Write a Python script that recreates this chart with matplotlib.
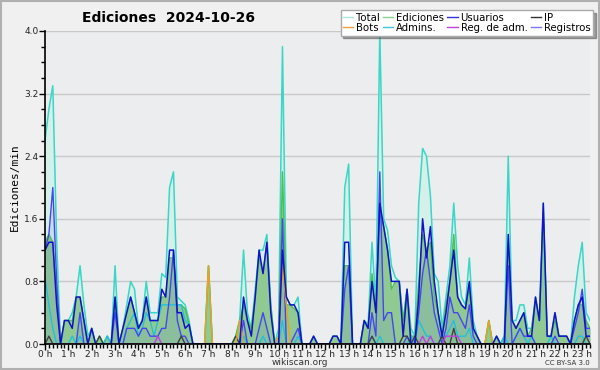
import numpy as np
import matplotlib
matplotlib.use("Agg")
import matplotlib.pyplot as plt
from matplotlib.lines import Line2D
from matplotlib.ticker import MultipleLocator, FixedLocator, FormatStrFormatter

# -----------------------------
# datos (ediciones/min cada 10 min, 00:00 -> 23:20)
# -----------------------------

total = [
    2.6, 3.0, 3.3, 1.3, 0.0, 0.3,   # 0 h
    0.3, 0.4, 0.6, 1.0, 0.5, 0.1,   # 1 h
    0.2, 0.0, 0.1, 0.0, 0.1, 0.0,   # 2 h
    1.0, 0.0, 0.2, 0.5, 0.8, 0.7,   # 3 h
    0.2, 0.3, 0.8, 0.4, 0.4, 0.4,   # 4 h
    0.9, 0.85, 2.0, 2.2, 0.6, 0.55,  # 5 h
    0.5, 0.3, 0.0, 0.0, 0.0, 0.0,   # 6 h
    1.0, 0.0, 0.0, 0.0, 0.0, 0.0,   # 7 h
    0.0, 0.1, 0.3, 1.2, 0.4, 0.2,   # 8 h
    0.7, 1.2, 1.2, 1.4, 0.5, 0.0,   # 9 h
    0.2, 3.8, 0.6, 0.5, 0.5, 0.6,   # 10 h
    0.0, 0.0, 0.0, 0.1, 0.0, 0.0,   # 11 h
    0.0, 0.0, 0.1, 0.1, 0.0, 2.0,   # 12 h
    2.3, 0.0, 0.0, 0.0, 0.3, 0.25,  # 13 h
    1.3, 0.5, 4.0, 1.6, 1.45, 1.0,  # 14 h
    0.85, 0.8, 0.3, 0.7, 0.2, 0.1,  # 15 h
    1.8, 2.5, 2.4, 1.9, 0.9, 0.8,   # 16 h
    0.2, 0.6, 1.0, 1.8, 1.0, 0.6,   # 17 h
    0.5, 1.1, 0.3, 0.1, 0.0, 0.0,   # 18 h
    0.3, 0.0, 0.1, 0.0, 0.1, 2.4,   # 19 h
    0.3, 0.3, 0.5, 0.5, 0.2, 0.2,   # 20 h
    0.6, 0.3, 1.8, 0.1, 0.1, 0.4,   # 21 h
    0.1, 0.1, 0.1, 0.0, 0.6, 1.0,   # 22 h
    1.3, 0.4, 0.3,                  # 23 h
]

ediciones = [
    1.3, 1.4, 1.3, 0.6, 0.0, 0.3,
    0.3, 0.3, 0.6, 0.6, 0.3, 0.0,
    0.2, 0.0, 0.1, 0.0, 0.1, 0.0,
    0.6, 0.0, 0.2, 0.4, 0.6, 0.4,
    0.2, 0.3, 0.6, 0.3, 0.3, 0.3,
    0.6, 0.6, 1.1, 1.1, 0.5, 0.5,
    0.45, 0.25, 0.0, 0.0, 0.0, 0.0,
    1.0, 0.0, 0.0, 0.0, 0.0, 0.0,
    0.0, 0.1, 0.3, 0.5, 0.3, 0.2,
    0.6, 1.1, 0.9, 1.3, 0.5, 0.0,
    0.1, 2.2, 0.5, 0.5, 0.45, 0.4,
    0.0, 0.0, 0.0, 0.1, 0.0, 0.0,
    0.0, 0.0, 0.1, 0.1, 0.0, 1.0,
    1.0, 0.0, 0.0, 0.0, 0.3, 0.2,
    0.9, 0.4, 1.7, 1.5, 1.2, 0.7,
    0.8, 0.8, 0.3, 0.7, 0.1, 0.1,
    0.8, 1.4, 1.2, 1.3, 0.6, 0.4,
    0.1, 0.5, 0.8, 1.4, 0.6, 0.5,
    0.45, 0.7, 0.2, 0.1, 0.0, 0.0,
    0.3, 0.0, 0.1, 0.0, 0.1, 1.3,
    0.3, 0.2, 0.3, 0.4, 0.1, 0.2,
    0.55, 0.3, 1.7, 0.1, 0.1, 0.3,
    0.1, 0.1, 0.1, 0.0, 0.3, 0.5,
    0.5, 0.3, 0.2,
]

usuarios = [
    1.2, 1.3, 1.3, 0.5, 0.0, 0.3,
    0.3, 0.2, 0.6, 0.6, 0.3, 0.0,
    0.2, 0.0, 0.0, 0.0, 0.0, 0.0,
    0.6, 0.0, 0.2, 0.4, 0.6, 0.4,
    0.2, 0.3, 0.6, 0.3, 0.3, 0.3,
    0.7, 0.6, 1.2, 1.2, 0.4, 0.4,
    0.2, 0.25, 0.0, 0.0, 0.0, 0.0,
    0.0, 0.0, 0.0, 0.0, 0.0, 0.0,
    0.0, 0.0, 0.0, 0.6, 0.3, 0.1,
    0.6, 1.2, 0.9, 1.3, 0.4, 0.0,
    0.0, 1.2, 0.6, 0.5, 0.5, 0.4,
    0.0, 0.0, 0.0, 0.1, 0.0, 0.0,
    0.0, 0.0, 0.1, 0.1, 0.0, 1.3,
    1.3, 0.0, 0.0, 0.0, 0.3, 0.2,
    0.8, 0.4, 1.8, 1.5, 1.2, 0.8,
    0.8, 0.8, 0.1, 0.7, 0.0, 0.0,
    0.6, 1.6, 1.1, 1.5, 0.8, 0.4,
    0.1, 0.4, 0.8, 1.2, 0.6, 0.5,
    0.45, 0.8, 0.2, 0.1, 0.0, 0.0,
    0.0, 0.0, 0.1, 0.0, 0.0, 1.4,
    0.3, 0.2, 0.3, 0.4, 0.1, 0.1,
    0.6, 0.3, 1.8, 0.1, 0.1, 0.4,
    0.1, 0.1, 0.1, 0.0, 0.3, 0.5,
    0.6, 0.1, 0.1,
]

ip = [0.0] * 141
for k in [1, 14, 35, 49, 84, 92, 93, 95, 102, 139]:
    ip[k] = 0.1
ip[105] = 0.2

bots = [0.0] * 141
bots[42] = 1.0
bots[50] = 0.3
bots[60] = 0.1
bots[61] = 1.0
bots[62] = 0.5
bots[114] = 0.3

admins = [
    0.85, 0.5, 0.2, 0.0, 0.0, 0.0,
    0.0, 0.1, 0.0, 0.1, 0.0, 0.0,
    0.0, 0.0, 0.0, 0.0, 0.1, 0.0,
    0.0, 0.0, 0.0, 0.2, 0.3, 0.4,
    0.1, 0.2, 0.4, 0.3, 0.1, 0.3,
    0.5, 0.5, 0.5, 0.5, 0.5, 0.5,
    0.3, 0.25, 0.0, 0.0, 0.0, 0.0,
    0.0, 0.0, 0.0, 0.0, 0.0, 0.0,
    0.0, 0.0, 0.0, 0.1, 0.0, 0.0,
    0.0, 0.0, 0.1, 0.0, 0.0, 0.0,
    0.0, 0.3, 0.0, 0.0, 0.0, 0.1,
    0.0, 0.0, 0.0, 0.0, 0.0, 0.0,
    0.0, 0.0, 0.0, 0.0, 0.0, 0.0,
    0.0, 0.0, 0.0, 0.0, 0.0, 0.0,
    0.1, 0.0, 0.1, 0.0, 0.0, 0.0,
    0.0, 0.0, 0.0, 0.0, 0.1, 0.0,
    0.3, 0.2, 0.1, 0.1, 0.0, 0.0,
    0.1, 0.1, 0.2, 0.3, 0.1, 0.1,
    0.1, 0.2, 0.0, 0.0, 0.0, 0.0,
    0.0, 0.0, 0.0, 0.0, 0.1, 0.0,
    0.0, 0.1, 0.2, 0.1, 0.0, 0.1,
    0.0, 0.0, 0.0, 0.0, 0.1, 0.0,
    0.0, 0.0, 0.0, 0.0, 0.0, 0.1,
    0.1, 0.0, 0.0,
]

reg_adm = [0.0] * 141
for k in [29, 97, 99, 103, 104, 105, 106]:
    reg_adm[k] = 0.1

registros = [
    1.2, 1.4, 2.0, 0.8, 0.0, 0.0,
    0.0, 0.0, 0.0, 0.4, 0.0, 0.0,
    0.0, 0.0, 0.0, 0.0, 0.0, 0.0,
    0.4, 0.0, 0.0, 0.2, 0.2, 0.2,
    0.1, 0.2, 0.2, 0.1, 0.1, 0.1,
    0.2, 0.2, 0.6, 1.2, 0.3, 0.1,
    0.1, 0.0, 0.0, 0.0, 0.0, 0.0,
    0.0, 0.0, 0.0, 0.0, 0.0, 0.0,
    0.0, 0.0, 0.0, 0.3, 0.0, 0.0,
    0.0, 0.2, 0.4, 0.2, 0.0, 0.0,
    0.0, 1.6, 0.0, 0.0, 0.1, 0.2,
    0.0, 0.0, 0.0, 0.0, 0.0, 0.0,
    0.0, 0.0, 0.0, 0.0, 0.0, 0.7,
    1.0, 0.0, 0.0, 0.0, 0.0, 0.0,
    0.4, 0.1, 2.2, 0.3, 0.4, 0.4,
    0.0, 0.0, 0.0, 0.1, 0.0, 0.0,
    0.4, 0.9, 1.2, 0.8, 0.4, 0.2,
    0.0, 0.2, 0.6, 0.4, 0.4, 0.3,
    0.2, 0.5, 0.1, 0.0, 0.0, 0.0,
    0.0, 0.0, 0.0, 0.0, 0.0, 1.0,
    0.0, 0.1, 0.2, 0.1, 0.1, 0.1,
    0.0, 0.0, 0.0, 0.0, 0.0, 0.1,
    0.0, 0.0, 0.0, 0.0, 0.2, 0.4,
    0.7, 0.2, 0.2,
]

hour_labels = [f"{h} h" for h in range(24)]

# -----------------------------
# figura
# -----------------------------

x = np.arange(len(total))

fig = plt.figure(figsize=(6, 3.7), dpi=100, facecolor="#f0f0f0")
ax = fig.add_axes([45 / 600, 26 / 370, 545 / 600, 313 / 370])
ax.set_facecolor("#ecedef")

# areas
ax.fill_between(x, total, color="#d5f0ea", lw=0)
ax.plot(x, total, color="#3ad6c6", lw=1.1)
ax.fill_between(x, ediciones, color="#90ca92", lw=0)
ax.plot(x, ediciones, color="#4fbf4f", lw=1)
ax.fill_between(x, registros, color="#6f7fd8", alpha=0.15, lw=0)

# lineas
ax.plot(x, admins, color="#22c0dc", lw=1)
ax.plot(x, registros, color="#4646f0", lw=1)
ax.plot(x, ip, color="#404040", lw=1)
ax.plot(x, bots, color="#f0a020", lw=1)
ax.plot(x, reg_adm, color="#c040e0", lw=1)
ax.plot(x, usuarios, color="#1212c8", lw=1.1)

ax.set_xlim(0, len(total) - 1)
ax.set_ylim(0, 4.0)

# ejes
for s in ["top", "right"]:
    ax.spines[s].set_visible(False)
ax.spines["left"].set_linewidth(1.2)
ax.spines["bottom"].set_linewidth(1.2)

ax.set_yticks(np.arange(0, 4.01, 0.8))
ax.yaxis.set_minor_locator(MultipleLocator(0.2))
ax.yaxis.set_major_formatter(FormatStrFormatter("%.1f"))
ax.xaxis.set_major_locator(FixedLocator(np.arange(0, 24) * 6))
ax.xaxis.set_minor_locator(MultipleLocator(1))
ax.set_xticklabels(hour_labels)

ax.tick_params(axis="both", which="major", length=4, width=1, labelsize=6.5,
               color="black", pad=0.5, labelcolor="#222222")
ax.tick_params(axis="both", which="minor", length=3, width=1)
ax.grid(axis="y", color="#c9c9c9", lw=1)
ax.set_axisbelow(True)

ax.set_ylabel("Ediciones/min", fontsize=8, family="DejaVu Sans Mono", labelpad=3)

fig.text(0.28, 0.951, "Ediciones  2024-10-26", fontsize=10, fontweight="bold",
         ha="center", va="center")
fig.text(0.5, 0.021, "wikiscan.org", fontsize=6.5, ha="center", va="center", color="#333333")
fig.text(0.983, 0.019, "CC BY-SA 3.0", fontsize=5, ha="right", va="center", color="#333333")

# leyenda
handles = [
    Line2D([], [], color="#a8e8dc", lw=1, label="Total"),
    Line2D([], [], color="#f0a040", lw=1, label="Bots"),
    Line2D([], [], color="#88d088", lw=1, label="Ediciones"),
    Line2D([], [], color="#40c8e0", lw=1, label="Admins."),
    Line2D([], [], color="#3434d8", lw=1, label="Usuarios"),
    Line2D([], [], color="#c040e0", lw=1, label="Reg. de adm."),
    Line2D([], [], color="#333333", lw=1, label="IP"),
    Line2D([], [], color="#7a7af0", lw=1, label="Registros"),
]
leg = ax.legend(handles=handles, ncol=4, loc="upper right",
                bbox_to_anchor=(593 / 600, 1 - 10 / 370), bbox_transform=fig.transFigure,
                fontsize=7.3, frameon=True, fancybox=False, shadow=True,
                handlelength=1.0, handletextpad=0.3, columnspacing=0.3,
                labelspacing=0.05, borderpad=0.25, borderaxespad=0)
leg.get_frame().set_edgecolor("#aaaaaa")
leg.get_frame().set_facecolor("white")
leg.get_frame().set_alpha(1)

# borde de la figura
fig.patches.append(plt.Rectangle((0.001, 0.002), 0.997, 0.996, transform=fig.transFigure,
                                 fill=False, edgecolor="#b0b0b0", lw=1.5))

plt.savefig("out.png", dpi=100, facecolor=fig.get_facecolor())
